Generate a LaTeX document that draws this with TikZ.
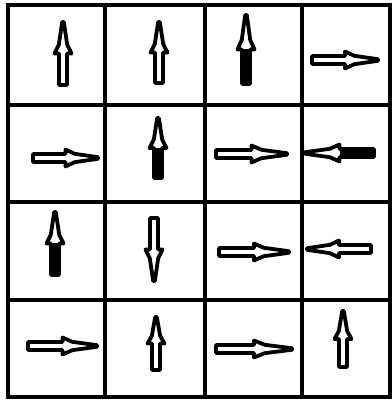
\documentclass[tikz,border=0pt]{standalone}
\usepackage{tikz}

% spin arrow: x, y (tail), angle, length, shaft fill
\newcommand{\spin}[5]{%
  \begin{scope}[shift={(#1,#2)},rotate=#3]
    \fill[#5] (0,-4) rectangle ({0.5*#4},4);
    \draw[spinline] (0,-4) -- ({0.5*#4},-4) -- ({0.5*#4},-8.5)
      -- ({0.64*#4},-4.2) -- (#4,-0.8) -- (#4,0.8) -- ({0.64*#4},4.2)
      -- ({0.5*#4},8.5) -- ({0.5*#4},4) -- (0,4) -- cycle;
  \end{scope}}

\begin{document}
\begin{tikzpicture}[
  x=0.025cm,y=0.025cm,
  gridline/.style={line width=0.12cm,line cap=rect},
  spinline/.style={line width=0.095cm,line join=round},
]
\useasboundingbox (0,0) rectangle (391,400);

% lattice
\foreach \gx in {8,105,205,302,390}
  \draw[gridline] (\gx,3) -- (\gx,395);
\foreach \gy in {3,100,198,295,395}
  \draw[gridline] (8,\gy) -- (390,\gy);

% row 1
\spin{63}{315}{90}{63}{white}
\spin{159}{317}{90}{61}{white}
\spin{246}{316}{90}{69}{black}
\spin{312}{340}{0}{66}{white}

% row 2
\spin{33}{242}{0}{65}{white}
\spin{158}{222}{90}{60}{black}
\spin{216}{246}{0}{71}{white}
\spin{374}{247}{180}{69}{black}

% row 3
\spin{55}{125}{90}{63}{black}
\spin{154}{182}{270}{63}{white}
\spin{219}{148}{0}{70}{white}
\spin{371}{151}{180}{64}{white}

% row 4
\spin{28}{54}{0}{69}{white}
\spin{156}{30}{90}{53}{white}
\spin{216}{51}{0}{76}{white}
\spin{343}{33}{90}{56}{white}

\end{tikzpicture}
\end{document}
